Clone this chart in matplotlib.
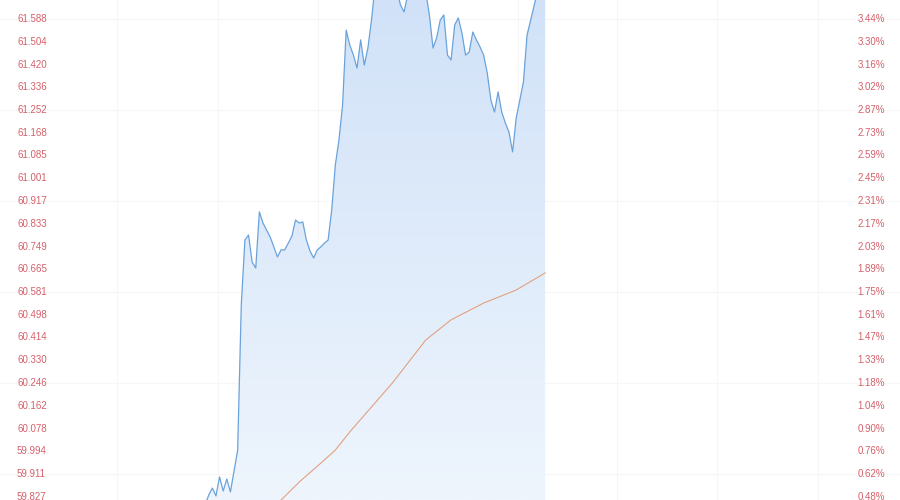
import numpy as np
import matplotlib
matplotlib.use('Agg')
import matplotlib.pyplot as plt
from matplotlib.colors import LinearSegmentedColormap

# Minuten seit Handelsbeginn und Kurs
minutes = [0, 5, 10, 15, 20, 25, 30, 35, 40, 45,
           50, 51, 52, 53, 54, 55, 56, 57, 58, 59,
           60, 61, 62, 63, 64, 65, 66, 67, 68, 69,
           70, 71, 72, 73, 74, 75, 76, 77, 78, 79,
           80, 81, 82, 83, 84, 85, 86, 87, 88, 89,
           90, 91, 92, 93, 94, 95, 96, 97, 98, 99,
           100, 101, 102, 103, 104, 105, 106, 107, 108, 109,
           110, 111, 112, 113, 114, 115, 116, 117, 118, 119,
           120, 121, 122, 123, 124, 125, 126, 127, 128, 129,
           130, 131, 132, 133, 134, 135, 136, 137, 138, 139,
           140, 141, 142, 143, 144, 145, 146]
price = [59.62, 59.66, 59.70, 59.68, 59.72, 59.74, 59.71, 59.75, 59.73, 59.76,
         59.741, 59.760, 59.797, 59.833, 59.859, 59.830, 59.900, 59.848, 59.892, 59.845,
         59.922, 59.999, 60.534, 60.773, 60.792, 60.692, 60.670, 60.877, 60.836, 60.810,
         60.784, 60.748, 60.711, 60.737, 60.737, 60.762, 60.788, 60.847, 60.836, 60.840,
         60.773, 60.733, 60.707, 60.737, 60.748, 60.762, 60.773, 60.884, 61.050, 61.142,
         61.271, 61.547, 61.492, 61.455, 61.407, 61.511, 61.418, 61.481, 61.584, 61.713,
         61.750, 61.769, 61.732, 61.787, 61.732, 61.695, 61.640, 61.614, 61.676, 61.750,
         61.769, 61.732, 61.761, 61.687, 61.603, 61.481, 61.518, 61.584, 61.603, 61.455,
         61.437, 61.566, 61.592, 61.536, 61.455, 61.466, 61.540, 61.511, 61.485, 61.455,
         61.389, 61.289, 61.245, 61.319, 61.245, 61.205, 61.171, 61.098, 61.223, 61.289,
         61.356, 61.529, 61.584, 61.640, 61.695, 61.732, 61.750]

# Durchschnittspreis
avg_minutes = [0, 20, 40, 60, 73, 78, 84, 88, 92, 98, 104, 113, 120, 129, 138, 146]
avg_price = [59.62, 59.65, 59.68, 59.74, 59.815, 59.881, 59.951, 59.999, 60.066,
             60.158, 60.250, 60.405, 60.479, 60.541, 60.589, 60.652]

# Achsenbeschriftungen
price_ticks = [61.672, 61.588, 61.504, 61.420, 61.336, 61.252, 61.168, 61.085,
               61.001, 60.917, 60.833, 60.749, 60.665, 60.581, 60.498, 60.414,
               60.330, 60.246, 60.162, 60.078, 59.994, 59.911, 59.827]
pct_labels = ['3.58%', '3.44%', '3.30%', '3.16%', '3.02%', '2.87%', '2.73%', '2.59%',
              '2.45%', '2.31%', '2.17%', '2.03%', '1.89%', '1.75%', '1.61%', '1.47%',
              '1.33%', '1.18%', '1.04%', '0.90%', '0.76%', '0.62%', '0.48%']

x_min, x_max = -4.7, 244.1
y_min, y_max = 59.815, 61.658

fig = plt.figure(figsize=(9, 5), dpi=100)
ax = fig.add_axes([0, 0, 1, 1])
ax.set_axis_off()

# sehr blasses Gitter
for t in [27.6, 55.6, 83.2, 110.9, 138.5, 165.9, 193.6, 221.5]:
    ax.axvline(t, color='#f6f6f6', lw=0.8, zorder=0)
for p in price_ticks[1::4]:
    ax.axhline(p, color='#f6f6f6', lw=0.8, zorder=0)

# Flaeche mit Verlauf
poly = ax.fill_between(minutes, price, 59.0, color='none', lw=0)
cmap = LinearSegmentedColormap.from_list('blau', ['#eef5fd', '#d1e2f8'])
grad = np.linspace(0, 1, 256).reshape(-1, 1)
im = ax.imshow(grad, extent=[x_min, x_max, y_min, y_max], aspect='auto',
               cmap=cmap, origin='lower', zorder=1)
im.set_clip_path(poly.get_paths()[0], transform=ax.transData)

ax.plot(minutes, price, color='#6aa3dc', lw=0.9, zorder=3)
ax.plot(avg_minutes, avg_price, color='#e3a17f', lw=0.8, zorder=3)

ax.set_xlim(x_min, x_max)
ax.set_ylim(y_min, y_max)

trans = ax.get_yaxis_transform()
for p, lab in zip(price_ticks, pct_labels):
    ax.text(17 / 900, p, f'{p:.3f}', transform=trans, ha='left', va='center',
            fontsize=7, color='#d4606a', family='Liberation Sans', zorder=4)
    ax.text(885 / 900, p, lab, transform=trans, ha='right', va='center',
            fontsize=7, color='#d4606a', family='Liberation Sans', zorder=4)

fig.savefig('out.png', dpi=100)
